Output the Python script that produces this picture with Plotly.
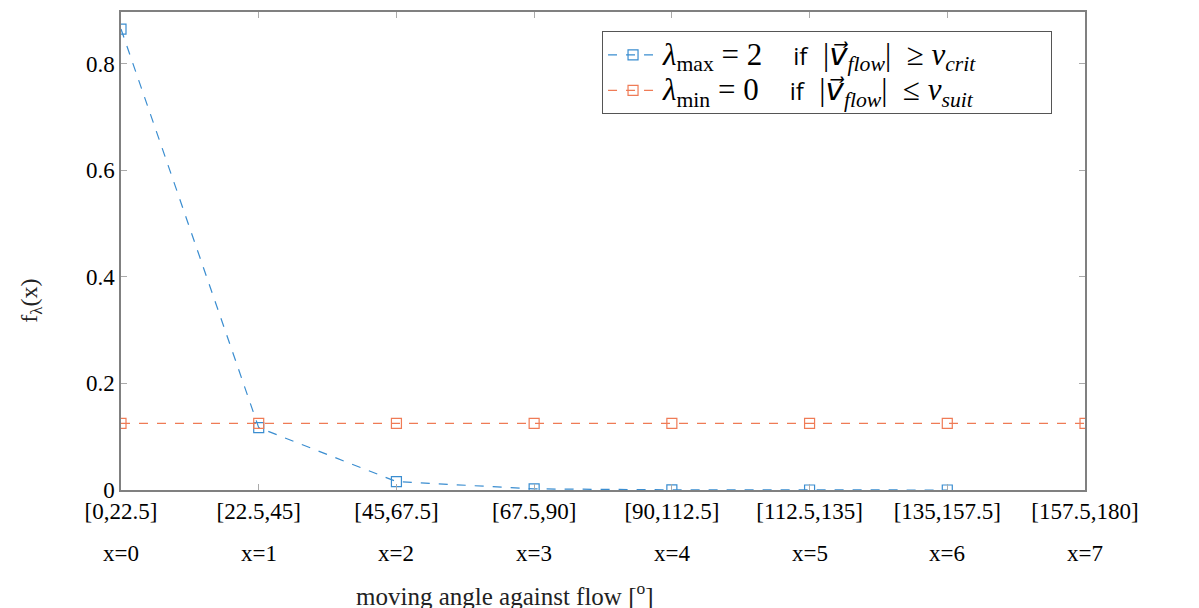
import plotly.graph_objects as go

x_vals = [0, 1, 2, 3, 4, 5, 6, 7]
interval_labels = ["[0,22.5]", "[22.5,45]", "[45,67.5]", "[67.5,90]",
                   "[90,112.5]", "[112.5,135]", "[135,157.5]", "[157.5,180]"]
x_labels = ["x=0", "x=1", "x=2", "x=3", "x=4", "x=5", "x=6", "x=7"]

blue_x = [0, 1, 2, 3, 4, 5, 6]
blue_y = [0.865, 0.117, 0.0158, 0.0021, 0.0003, 0.00004, 0.000005]
orange_x = [0, 1, 2, 3, 4, 5, 6, 7]
orange_y = [0.125, 0.125, 0.125, 0.125, 0.125, 0.125, 0.125, 0.125]

y_ticks = [0, 0.2, 0.4, 0.6, 0.8]
y_ticklabels = ["0", "0.2", "0.4", "0.6", "0.8"]

BLUE = "#3a8dd0"
ORANGE = "#ef7b56"
SERIF = "Liberation Serif"

VEC = "<span style='font-family:DejaVu Sans'><i>v⃗</i></span>"
IF = "<span style='font-family:Open Sans;font-size:24px'>if</span>"
PAD = "\u00a0" * 9


def legend_label(sub, val, rel, rhs):
    return ("<span style='font-size:31px'><i>λ</i><sub>" + sub + "</sub> = " + val
            + "    " + IF + "  |" + VEC + "<sub><i>flow</i></sub>|  " + rel
            + " <i>v</i><sub><i>" + rhs + "</i></sub>" + PAD + "</span>")


fig = go.Figure()
fig.add_trace(go.Scatter(
    x=blue_x, y=blue_y, mode="lines+markers",
    name=legend_label("max", "2", "≥", "crit"),
    line=dict(color=BLUE, width=1.2, dash="dash"),
    marker=dict(symbol="square-open", size=10, color=BLUE, line=dict(width=1.2)),
))
fig.add_trace(go.Scatter(
    x=orange_x, y=orange_y, mode="lines+markers",
    name=legend_label("min", "0", "≤", "suit"),
    line=dict(color=ORANGE, width=1.2, dash="dash"),
    marker=dict(symbol="square-open", size=10, color=ORANGE, line=dict(width=1.2)),
))

for xv, lab in zip(x_vals, x_labels):
    fig.add_annotation(x=xv, y=0, xref="x", yref="paper", text=lab,
                       showarrow=False, yanchor="middle", yshift=-63,
                       font=dict(family=SERIF, size=23, color="black"))

fig.add_annotation(x=0.398, y=0, xref="paper", yref="paper",
                   text="moving angle against flow [<sup>o</sup>]",
                   showarrow=False, yanchor="middle", yshift=-104,
                   font=dict(family=SERIF, size=25, color="#222"))
fig.add_annotation(x=0, y=0.396, xref="paper", yref="paper",
                   text="f<sub>λ</sub>(x)", textangle=-90,
                   showarrow=False, xanchor="center", xshift=-90,
                   font=dict(family=SERIF, size=24, color="#222"))

fig.update_layout(
    width=1199, height=608,
    margin=dict(l=113, r=122, t=2, b=126),
    paper_bgcolor="white", plot_bgcolor="white",
    font=dict(family=SERIF, size=23, color="black"),
    showlegend=True,
    legend=dict(x=0.499, y=0.96, xanchor="left", yanchor="top",
                bordercolor="#555", borderwidth=1, bgcolor="white",
                font=dict(family=SERIF, size=25, color="black"),
                tracegroupgap=0, itemwidth=50),
)
fig.update_xaxes(
    range=[0, 7], tickmode="array", tickvals=x_vals, ticktext=interval_labels,
    showgrid=False, zeroline=False, showline=True, linecolor="#808080",
    linewidth=1.5, mirror="ticks", ticks="inside", ticklen=6, tickcolor="#aaa",
    tickfont=dict(family=SERIF, size=23),
)
fig.update_yaxes(
    range=[0, 0.897], tickmode="array", tickvals=y_ticks, ticktext=y_ticklabels,
    showgrid=False, zeroline=False, showline=True, linecolor="#808080",
    linewidth=1.5, mirror="ticks", ticks="inside", ticklen=6, tickcolor="#aaa",
    tickfont=dict(family=SERIF, size=23),
)

fig.write_html("out.html")
